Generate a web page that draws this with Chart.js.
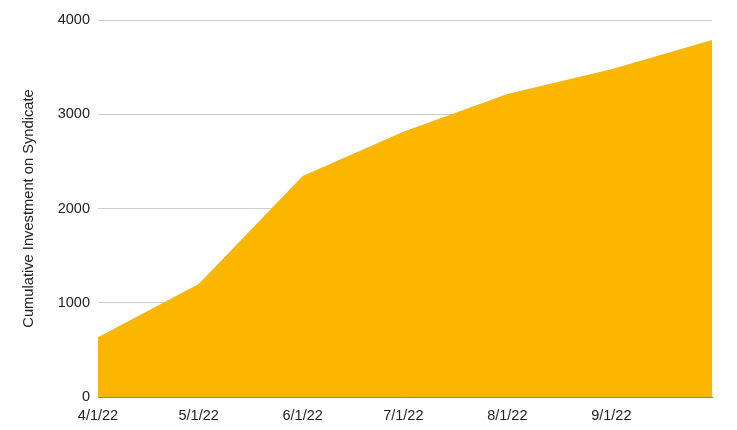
<!DOCTYPE html>
<html>
<head>
<meta charset="utf-8">
<script src="https://cdn.jsdelivr.net/npm/chart.js@4/dist/chart.umd.min.js"></script>
<style>
  body { margin: 0; background: #fff; }
</style>
</head>
<body>
<canvas id="investChart" width="737" height="430"></canvas>
<script>
// data
const dates = ['2022-04-01', '2022-05-01', '2022-06-01', '2022-07-01', '2022-08-01', '2022-09-01', '2022-10-01'];
const investment = [633, 1199, 2345, 2815, 3215, 3477, 3788];
const tickDates = ['2022-04-01', '2022-05-01', '2022-06-01', '2022-07-01', '2022-08-01', '2022-09-01'];
const tickLabels = ['4/1/22', '5/1/22', '6/1/22', '7/1/22', '8/1/22', '9/1/22'];
const yTicks = [0, 1000, 2000, 3000, 4000];

const dayMs = 86400000;
const start = Date.parse(dates[0]);
function dayOf(d) {
    return Math.round((Date.parse(d) - start) / dayMs);
}

const points = dates.map((d, i) => ({ x: dayOf(d), y: investment[i] }));
const tickDays = tickDates.map(dayOf);

const ctx = document.getElementById('investChart').getContext('2d');
new Chart(ctx, {
    type: 'line',
    data: {
        datasets: [{
            data: points,
            fill: 'origin',
            backgroundColor: '#fbb600',
            borderWidth: 0,
            pointRadius: 0,
            tension: 0
        }]
    },
    options: {
        responsive: false,
        animation: false,
        layout: {
            padding: { left: 0, right: 25, top: 20, bottom: 0 }
        },
        plugins: {
            legend: { display: false },
            tooltip: { enabled: false }
        },
        scales: {
            x: {
                type: 'linear',
                min: 0,
                max: dayOf(dates[dates.length - 1]),
                z: 1,
                grid: { display: false, drawTicks: false },
                border: { display: true, color: '#a08a40', width: 1 },
                afterBuildTicks: function(scale) {
                    scale.ticks = tickDays.map(v => ({ value: v }));
                },
                afterFit: function(scale) {
                    scale.height = 33;
                },
                ticks: {
                    autoSkip: false,
                    maxRotation: 0,
                    padding: 10,
                    color: '#222',
                    font: { family: 'Arial, "Liberation Sans"', size: 14.5 },
                    callback: function(value) {
                        const i = tickDays.indexOf(value);
                        return i >= 0 ? tickLabels[i] : '';
                    }
                }
            },
            y: {
                min: 0,
                max: 4000,
                afterBuildTicks: function(scale) {
                    scale.ticks = yTicks.map(v => ({ value: v }));
                },
                afterFit: function(scale) {
                    scale.width = 98;
                },
                grid: { color: '#cccccc', drawTicks: false },
                border: { display: false },
                ticks: {
                    padding: 8,
                    color: '#222',
                    font: { family: 'Arial, "Liberation Sans"', size: 14.5 },
                    callback: function(value) {
                        return String(value);
                    }
                },
                title: {
                    display: true,
                    text: 'Cumulative Investment on Syndicate',
                    color: '#222',
                    padding: { top: 20, bottom: 0 },
                    font: { family: 'Arial, "Liberation Sans"', size: 14.7 }
                }
            }
        }
    }
});
</script>
</body>
</html>
